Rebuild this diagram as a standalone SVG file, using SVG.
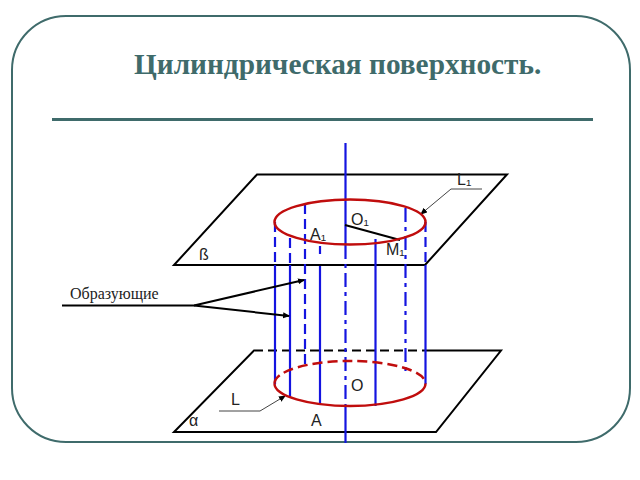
<svg xmlns="http://www.w3.org/2000/svg" width="640" height="480" viewBox="0 0 640 480">
<style>
.plane{fill:none;stroke:#000;stroke-width:2}
.red{fill:none;stroke:#c00d0d;stroke-width:2.500}
.blue{fill:none;stroke:#1414e0;stroke-width:2.200}
.lbl{font-family:"Liberation Sans",Arial,sans-serif;font-size:16px;fill:#222}
.dash{stroke-dasharray:10 5}
.dd{stroke-dasharray:14 5 4 5}
</style>
<defs>
<marker id="ah" markerWidth="8" markerHeight="8" refX="6" refY="3" orient="auto" markerUnits="userSpaceOnUse"><path d="M0,0L7,3L0,6z" fill="#000"/></marker>
</defs>
<rect x="0" y="0" width="640" height="480" fill="#fff"/>
<g id="frame">
<rect x="12" y="16" width="618" height="426" rx="54" ry="54" fill="#fff" stroke="#3f6b6b" stroke-width="2"/>
<line x1="52" y1="119.500" x2="593" y2="119.500" stroke="#3f6b6b" stroke-width="3"/>
<text x="134" y="74" font-family="'Liberation Serif','Times New Roman',serif" font-size="29.300" font-weight="bold" fill="#3f6b6b">Цилиндрическая поверхность.</text>
</g>
<g id="plane-beta">
<path class="plane" d="M257,174.500H507L425,265H174Z"/>
<text class="lbl" x="199" y="260">ß</text>
</g>
<g id="plane-alpha">
<path class="plane" d="M254,350.500H501L436,432H174Z"/>
<path d="M254,350.500H425" stroke="#fff" stroke-width="3"/>
<path d="M254,350.500H425" stroke="#000" stroke-width="2" stroke-dasharray="9 5" fill="none"/>
<text class="lbl" x="189" y="426">α</text>
</g>
<g id="connectors">
<path class="blue dash" d="M275,222V265"/><path class="blue" d="M275,265V384"/>
<path class="blue dash" d="M290,238V265"/><path class="blue" d="M290,265V397"/>
<path class="blue dash" d="M305,204V366"/>
<path class="blue" d="M320,246V254M320,266V405"/>
<path class="blue" d="M345.500,143V245M345.500,405V443"/>
<path class="blue dd" d="M345.500,245V405"/>
<path class="blue" d="M375.500,239V406"/>
<path class="blue dd" d="M405.500,208V372"/>
<path class="blue dash" d="M425.500,222V265"/><path class="blue" d="M425.500,265V384"/>
<path fill="none" stroke="#000" stroke-width="2" d="M345,225L400,240"/>
<path fill="none" stroke="#000" stroke-width="2" d="M62,305.500H194L304,280" marker-end="url(#ah)"/>
<path fill="none" stroke="#000" stroke-width="2" d="M194,305.500L289,316" marker-end="url(#ah)"/>
<path fill="none" stroke="#444" stroke-width="1" d="M482,189H451L421,214" marker-end="url(#ah)"/>
<path fill="none" stroke="#444" stroke-width="1" d="M219,411H260L285,396" marker-end="url(#ah)"/>
</g>
<g id="circle-top">
<ellipse class="red" cx="350" cy="222" rx="75.500" ry="22.500"/>
</g>
<g id="circle-bottom">
<path class="red" d="M274.500,383.500A75.500,22.500 0 0 0 425.500,383.500"/>
<path class="red" d="M274.500,383.500A75.500,22.500 0 0 1 425.500,383.500" stroke-dasharray="10 5"/>
</g>
<g id="labels">
<text class="lbl" x="457" y="185">L₁</text>
<text class="lbl" x="351" y="225">O₁</text>
<text class="lbl" x="310" y="240">A₁</text>
<text class="lbl" x="386" y="255">M₁</text>
<text class="lbl" x="351" y="391">O</text>
<text class="lbl" x="231" y="405">L</text>
<text class="lbl" x="311" y="426">A</text>
<text x="70" y="299" font-family="'Liberation Serif','Times New Roman',serif" font-size="16" fill="#222">Образующие</text>
</g>
</svg>
